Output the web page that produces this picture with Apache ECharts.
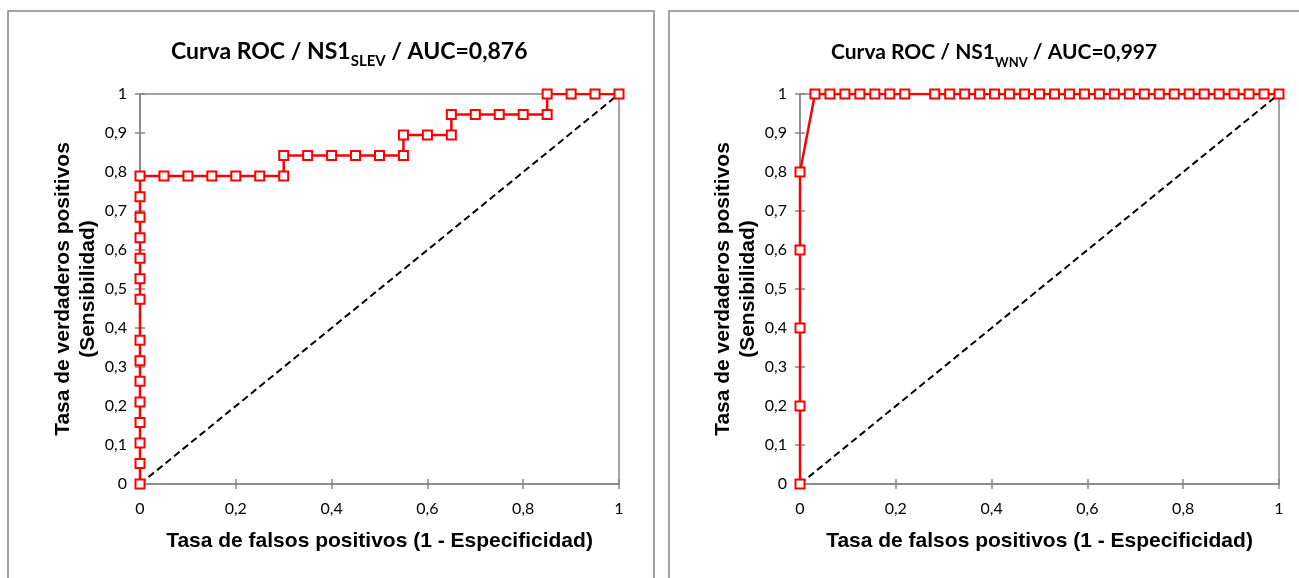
<!DOCTYPE html>
<html>
<head>
<meta charset="utf-8">
<script src="https://cdn.jsdelivr.net/npm/echarts@6/dist/echarts.min.js"></script>
<style>
html,body{margin:0;padding:0;background:#fff;}
#chart{width:1299px;height:578px;}
</style>
</head>
<body>
<div id="chart"></div>
<script>
// ---- data ----
const leftFpr = [0,0,0,0,0,0,0,0,0,0,0,0,0,0,0,
  0.05,0.1,0.15,0.2,0.25,0.3,
  0.3,0.35,0.4,0.45,0.5,0.55,
  0.55,0.6,0.65,
  0.65,0.7,0.75,0.8,0.85,
  0.85,0.9,0.95,1];
const leftTpr = [0,0.0526,0.1053,0.1579,0.2105,0.2632,0.3158,0.3684,0.4737,0.5263,0.5789,0.6316,0.6842,0.7368,0.7895,
  0.7895,0.7895,0.7895,0.7895,0.7895,0.7895,
  0.8421,0.8421,0.8421,0.8421,0.8421,0.8421,
  0.8947,0.8947,0.8947,
  0.9474,0.9474,0.9474,0.9474,0.9474,
  1,1,1,1];
const rightFpr = [0,0,0,0,0,
  0.03125,0.0625,0.09375,0.125,0.15625,0.1875,0.21875,
  0.28125,0.3125,0.34375,0.375,0.40625,0.4375,0.46875,0.5,0.53125,0.5625,0.59375,0.625,
  0.65625,0.6875,0.71875,0.75,0.78125,0.8125,0.84375,0.875,0.90625,0.9375,0.96875,1];
const rightTpr = [0,0.2,0.4,0.6,0.8,
  1,1,1,1,1,1,1,
  1,1,1,1,1,1,1,1,1,1,1,1,
  1,1,1,1,1,1,1,1,1,1,1,1];
const diagX = [0,1];
const diagY = [0,1];
const xTickLabels = ['0','0,2','0,4','0,6','0,8','1'];
const yTickLabels = ['0','0,1','0,2','0,3','0,4','0,5','0,6','0,7','0,8','0,9','1'];
const titleLeft = ['Curva ROC / NS1','SLEV',' / AUC=0,876'];
const titleRight = ['Curva ROC / NS1','WNV',' / AUC=0,997'];
const xName = 'Tasa de falsos positivos (1 - Especificidad)';
const yName = 'Tasa de verdaderos positivos\n(Sensibilidad)';

// ---- helpers ----
const pairs = (xs, ys) => xs.map((x, i) => [x, ys[i]]);
const gray = '#878787';
const labelFont = 'Lato, "Open Sans", sans-serif';
const nameFont = '"Liberation Sans", Arial, sans-serif';

function mkTitle(parts, left, fs) {
  return {
    text: '{a|' + parts[0] + '}{b|' + parts[1] + '}{a|' + parts[2] + '}',
    left: left, top: 30,
    textStyle: {
      rich: {
        a: {fontFamily: labelFont, fontWeight: 'bold', fontSize: fs, color: '#000', lineHeight: 28, verticalAlign: 'bottom'},
        b: {fontFamily: labelFont, fontWeight: 'bold', fontSize: Math.round(fs * 0.64), color: '#000', lineHeight: 28, verticalAlign: 'bottom', padding: [0,0,-6,0]}
      }
    }
  };
}
function mkX(gi) {
  return {
    gridIndex: gi, type: 'value', min: 0, max: 1, interval: 0.2,
    name: xName, nameLocation: 'middle', nameGap: 47,
    nameTextStyle: {fontFamily: nameFont, fontWeight: 'bold', fontSize: 21, color: '#000'},
    axisLine: {show: true, onZero: false, lineStyle: {color: gray, width: 1.5}},
    axisTick: {show: true, length: 5, lineStyle: {color: gray, width: 1.5}},
    axisLabel: {fontFamily: labelFont, fontSize: 16, color: '#000', margin: 17,
      formatter: v => xTickLabels[Math.round(v / 0.2)]},
    splitLine: {show: false}
  };
}
function mkY(gi) {
  return {
    gridIndex: gi, type: 'value', min: 0, max: 1, interval: 0.1,
    name: yName, nameLocation: 'middle', nameGap: 38, nameRotate: 90,
    nameTextStyle: {fontFamily: nameFont, fontWeight: 'bold', fontSize: 21, color: '#000', lineHeight: 25},
    axisLine: {show: true, onZero: false, lineStyle: {color: gray, width: 1.5}},
    axisTick: {show: true, length: 5, lineStyle: {color: gray, width: 1.5}},
    axisLabel: {fontFamily: labelFont, fontSize: 16, color: '#000', margin: 13,
      formatter: v => yTickLabels[Math.round(v / 0.1)]},
    splitLine: {show: false}
  };
}
// inner half of the crossing tick marks
function mkXInner(gi) {
  return {gridIndex: gi, type: 'value', min: 0, max: 1, interval: 0.2, position: 'bottom',
    axisLine: {show: false}, axisLabel: {show: false}, splitLine: {show: false},
    axisTick: {show: true, inside: true, length: 5, lineStyle: {color: gray, width: 1.5}}};
}
function mkYInner(gi) {
  return {gridIndex: gi, type: 'value', min: 0, max: 1, interval: 0.1, position: 'left',
    axisLine: {show: false}, axisLabel: {show: false}, splitLine: {show: false},
    axisTick: {show: true, inside: true, length: 5, lineStyle: {color: gray, width: 1.5}}};
}
function rocSeries(i, xs, ys) {
  return {
    type: 'line', xAxisIndex: i, yAxisIndex: i, data: pairs(xs, ys),
    symbol: 'rect', symbolSize: 9, showSymbol: true,
    lineStyle: {color: '#ff0000', width: 2.5},
    itemStyle: {color: '#ffffff', borderColor: '#ff0000', borderWidth: 2},
    z: 3, animation: false
  };
}
function diagSeries(i) {
  return {
    type: 'line', xAxisIndex: i, yAxisIndex: i, data: pairs(diagX, diagY),
    symbol: 'none', lineStyle: {color: '#000', width: 2, type: [7, 4]}, z: 2, animation: false
  };
}

const chart = echarts.init(document.getElementById('chart'), null, {renderer: 'canvas'});
chart.setOption({
  backgroundColor: '#fff',
  animation: false,
  graphic: [
    {type: 'rect', shape: {x: 8, y: 11, width: 646, height: 620}, style: {fill: 'none', stroke: gray, lineWidth: 1.5}, z: -1},
    {type: 'rect', shape: {x: 669, y: 11, width: 660, height: 620}, style: {fill: 'none', stroke: gray, lineWidth: 1.5}, z: -1}
  ],
  title: [mkTitle(titleLeft, 166, 23), mkTitle(titleRight, 826, 21)],
  grid: [
    {left: 140, top: 94, width: 479, height: 390, show: true, borderColor: gray, borderWidth: 1.5, containLabel: false},
    {left: 800, top: 94, width: 479, height: 390, show: true, borderColor: gray, borderWidth: 1.5, containLabel: false}
  ],
  xAxis: [mkX(0), mkX(1), mkXInner(0), mkXInner(1)],
  yAxis: [mkY(0), mkY(1), mkYInner(0), mkYInner(1)],
  series: [
    diagSeries(0), rocSeries(0, leftFpr, leftTpr),
    diagSeries(1), rocSeries(1, rightFpr, rightTpr)
  ]
});
</script>
</body>
</html>
